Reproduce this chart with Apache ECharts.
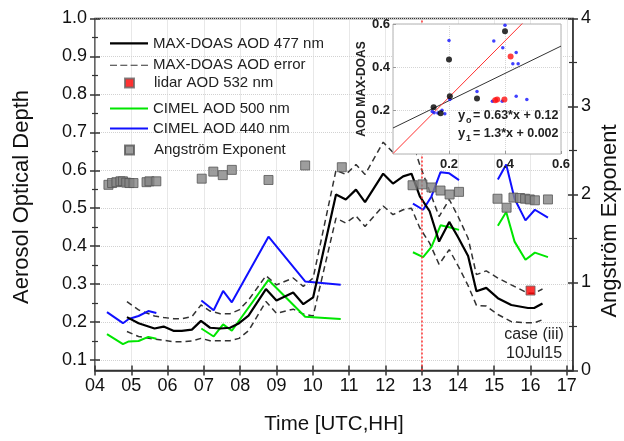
<!DOCTYPE html>
<html><head><meta charset="utf-8">
<script src="https://cdn.jsdelivr.net/npm/echarts@6/dist/echarts.min.js"></script>
<style>html,body{margin:0;padding:0;background:#fff}#c{width:624px;height:441px}</style>
</head><body><div id="c"></div>
<script>
// ---- MAX-DOAS AOD 477 nm with error bounds ----
const hours = [4.88,5.2,5.64,5.89,6.16,6.39,6.67,6.92,7.17,7.45,7.72,7.97,8.23,8.71,9.0,9.46,9.74,10.01,10.64,10.91,11.19,11.44,11.94,12.21,12.49,12.72,12.95,13.22,13.48,13.76,14.0,14.28,14.51,14.78,15.1,15.47,15.93,16.1,16.33];
const maxdoas = [0.213,0.197,0.183,0.188,0.177,0.177,0.180,0.203,0.185,0.183,0.185,0.197,0.217,0.287,0.257,0.278,0.247,0.265,0.536,0.523,0.549,0.516,0.591,0.565,0.584,0.591,0.531,0.492,0.412,0.464,0.424,0.374,0.281,0.290,0.263,0.245,0.237,0.237,0.249];
const errUpper = [0.254,0.232,0.216,0.212,0.209,0.209,0.214,0.245,0.229,0.222,0.222,0.232,0.258,0.322,0.298,0.316,0.294,0.316,0.600,0.589,0.615,0.589,0.674,0.647,0.672,0.682,0.614,0.545,0.478,0.523,0.479,0.421,0.325,0.335,0.316,0.298,0.276,0.276,0.287];
const errLower = [0.175,0.162,0.155,0.152,0.148,0.148,0.150,0.157,0.151,0.151,0.151,0.157,0.177,0.254,0.223,0.234,0.221,0.216,0.474,0.461,0.480,0.452,0.506,0.483,0.496,0.500,0.448,0.408,0.352,0.391,0.349,0.296,0.244,0.242,0.220,0.201,0.198,0.198,0.206];
// ---- lidar ----
const lidarTime = [16.0];
const lidarAOD = [0.283];
// ---- CIMEL (null = gap) ----
const cimelTime = [4.33,4.77,4.93,5.2,5.47,5.69,6.3,6.93,7.27,7.53,7.77,8.78,9.79,10.77,11.8,12.76,13.04,13.27,13.52,13.76,14.03,14.6,15.1,15.33,15.56,15.86,16.12,16.48];
const cimel440 = [0.226,0.197,0.208,0.216,0.229,0.224,null,0.257,0.231,0.282,0.252,0.425,0.307,0.298,null,0.512,0.496,0.531,0.595,0.592,0.574,null,0.576,0.615,0.525,0.468,0.496,0.475];
const cimel500 = [0.168,0.142,0.149,0.150,0.161,0.156,null,0.183,0.162,0.194,0.177,0.311,0.214,0.208,null,0.384,0.371,0.398,0.455,0.450,0.443,null,0.454,0.490,0.412,0.364,0.383,0.371];
// ---- Angstrom exponent ----
const angTime = [4.37,4.47,4.59,4.70,4.77,4.86,4.95,5.06,5.42,5.50,5.69,6.94,7.26,7.52,7.77,8.78,9.79,10.80,12.75,13.02,13.27,13.52,13.77,14.03,15.09,15.34,15.53,15.71,15.85,15.98,16.12,16.48];
const angstrom = [2.11,2.13,2.14,2.15,2.15,2.135,2.13,2.13,2.14,2.15,2.15,2.18,2.26,2.22,2.28,2.165,2.33,2.31,2.105,2.115,2.08,2.045,2.0,2.03,1.952,1.85,1.965,1.96,1.952,1.944,1.934,1.944];
// ---- inset scatter (x: reference AOD, y: AOD MAX-DOAS) ----
const insetBlackX = [0.200,0.203,0.145,0.170,0.300,0.400];
const insetBlackY = [0.436,0.266,0.216,0.188,0.256,0.566];
const insetBlueX = [0.200,0.203,0.140,0.147,0.160,0.175,0.185,0.300,0.400,0.360,0.392,0.440,0.428,0.447,0.355,0.390,0.440,0.478];
const insetBlueY = [0.524,0.251,0.196,0.190,0.189,0.202,0.186,0.288,0.594,0.522,0.490,0.468,0.417,0.417,0.243,0.243,0.267,0.251];
const insetRedX = [0.420,0.365,0.372,0.398];
const insetRedY = [0.450,0.248,0.251,0.251];
// regression fits: [slope, intercept]
const fit0 = [0.63, 0.12];
const fit1 = [1.3, 0.002];
const insetRange = [0, 0.6];
const markTime = 13;

const FONT = '"Liberation Sans", Arial, sans-serif';
const AX = '#333';
const pair = (xs, ys) => xs.map((x, i) => [x, ys[i] == null ? '-' : ys[i]]);
const fitLine = f => insetRange.map(x => [x, f[0] * x + f[1]]);
const isMult = (v, s) => Math.abs(v / s - Math.round(v / s)) < 1e-6;

const chart = echarts.init(document.getElementById('c'), null, {renderer: 'canvas'});

const legendText = {fontSize: 15, color: '#222', fontFamily: FONT};
const lineLegend = (name, cy, icon, h) => ({orient: 'horizontal', left: 110, top: cy - h / 2, padding: 0,
  itemWidth: 38, itemHeight: h, selectedMode: false, textStyle: legendText, data: [{name: name, icon: icon}]});
const boxLegend = (name, cy) => ({orient: 'horizontal', left: 124, top: cy - 4.5, padding: 0,
  itemWidth: 9, itemHeight: 9, selectedMode: false,
  textStyle: Object.assign({padding: [0, 0, 0, 15]}, legendText), data: [{name: name, icon: 'rect'}]});
const DASH_ICON = 'path://M0,0h7v1h-7z M10.3,0h7v1h-7z M20.6,0h7v1h-7z M31,0h7v1h-7z';

const X_MAX = 17.17;
const option = {
  animation: false,
  backgroundColor: '#fff',
  textStyle: {fontFamily: FONT},
  grid: [
    // full frame: x axis and Angstrom axis (0 .. 4)
    {left: 95, right: 51, top: 18.5, bottom: 70.5, show: true, borderColor: AX, borderWidth: 1.5, backgroundColor: 'transparent', outerBoundsMode: 'none'},
    // AOD area (0.1 .. 1.0)
    {left: 95, right: 51, top: 18.5, bottom: 81, show: false, outerBoundsMode: 'none'},
    // inset
    {left: 393, top: 24, width: 168, height: 130, show: true, borderColor: '#b0b0b0', borderWidth: 1, backgroundColor: '#fff', z: 10, outerBoundsMode: 'none'}
  ],
  legend: [
    lineLegend('MAX-DOAS AOD 477 nm', 37, 'rect', 2.2),
    lineLegend('MAX-DOAS AOD error', 58.5, DASH_ICON, 1.5),
    boxLegend('lidar AOD 532 nm', 80),
    lineLegend('CIMEL AOD 500 nm', 102, 'rect', 2),
    lineLegend('CIMEL AOD 440 nm', 122, 'rect', 2),
    boxLegend('Angström Exponent', 147)
  ],
  xAxis: [
    {gridIndex: 0, type: 'value', min: 4, max: X_MAX, interval: 1, position: 'bottom',
      axisLine: {show: true, onZero: false, lineStyle: {color: AX, width: 1.5}},
      axisTick: {show: true, length: 5, lineStyle: {color: AX, width: 1.5}},
      axisLabel: {color: '#111', fontSize: 18, fontFamily: FONT, margin: 7, showMaxLabel: false,
        formatter: v => isMult(v, 1) ? String(Math.round(v)).padStart(2, '0') : ''},
      splitLine: {show: true, lineStyle: {color: '#d2d2d2', type: 'dotted', width: 1}},
      name: 'Time [UTC,HH]', nameLocation: 'middle', nameGap: 43,
      nameTextStyle: {fontSize: 20.5, color: '#111', fontFamily: FONT}},
    {gridIndex: 0, type: 'value', min: 4, max: X_MAX, interval: 1, position: 'bottom', offset: 0,
      axisLine: {show: false, onZero: false}, axisLabel: {show: false}, splitLine: {show: false},
      axisTick: {show: true, inside: true, length: 5, lineStyle: {color: AX, width: 1.5}}},
    {gridIndex: 1, type: 'value', min: 4, max: X_MAX, show: false},
    {gridIndex: 2, type: 'value', min: 0, max: 0.6, interval: 0.2, z: 11,
      axisLine: {show: false, onZero: false},
      axisTick: {show: true, inside: true, length: 3, lineStyle: {color: '#999'}},
      axisLabel: {color: '#222', fontSize: 13, fontWeight: 'bold', fontFamily: FONT, margin: 4,
        showMinLabel: false, showMaxLabel: true, formatter: v => v.toFixed(1)},
      splitLine: {show: true, lineStyle: {color: '#d5d5d5', type: 'dotted'}}}
  ],
  yAxis: [
    {gridIndex: 1, type: 'value', min: 0.1, max: 1.0, interval: 0.1, position: 'left',
      axisLine: {show: false, onZero: false},
      axisTick: {show: true, length: 5, lineStyle: {color: AX, width: 1.5}},
      minorTick: {show: true, splitNumber: 2, length: 3, lineStyle: {color: AX, width: 1.2}},
      axisLabel: {color: '#111', fontSize: 18, fontFamily: FONT, margin: 8, showMinLabel: true, showMaxLabel: true,
        formatter: v => v.toFixed(1)},
      splitLine: {show: true, lineStyle: {color: '#d2d2d2', type: 'dotted', width: 1}}},
    {gridIndex: 0, type: 'value', min: 0, max: 4, interval: 1, position: 'right',
      axisLine: {show: true, onZero: false, lineStyle: {color: AX, width: 1.5}},
      axisTick: {show: true, length: 5, lineStyle: {color: AX, width: 1.5}},
      minorTick: {show: true, splitNumber: 2, length: 4, lineStyle: {color: AX, width: 1.2}},
      axisLabel: {color: '#111', fontSize: 18, fontFamily: FONT, margin: 8, showMinLabel: true, showMaxLabel: true},
      splitLine: {show: false}},
    {gridIndex: 1, type: 'value', min: 0.1, max: 1.0, interval: 0.1, position: 'left', offset: 0,
      axisLine: {show: false, onZero: false}, axisLabel: {show: false}, splitLine: {show: false},
      axisTick: {show: true, inside: true, length: 5, lineStyle: {color: AX, width: 1.5}},
      minorTick: {show: true, splitNumber: 2, length: 3, lineStyle: {color: AX, width: 1.2}}},
    {gridIndex: 0, type: 'value', min: 0, max: 4, interval: 1, position: 'right', offset: 0,
      axisLine: {show: false, onZero: false}, axisLabel: {show: false}, splitLine: {show: false},
      axisTick: {show: true, inside: true, length: 5, lineStyle: {color: AX, width: 1.5}},
      minorTick: {show: true, splitNumber: 2, length: 4, lineStyle: {color: AX, width: 1.2}}},
    {gridIndex: 2, type: 'value', min: 0, max: 0.6, interval: 0.2, z: 11,
      axisLine: {show: false, onZero: false},
      axisTick: {show: true, inside: true, length: 3, lineStyle: {color: '#999'}},
      axisLabel: {color: '#222', fontSize: 13, fontWeight: 'bold', fontFamily: FONT, margin: 3,
        showMinLabel: false, showMaxLabel: true, formatter: v => v.toFixed(1)},
      splitLine: {show: true, lineStyle: {color: '#d5d5d5', type: 'dotted'}},
      name: 'AOD MAX-DOAS', nameLocation: 'middle', nameGap: 22, nameRotate: 90,
      nameTextStyle: {fontSize: 12, fontWeight: 'bold', color: '#222', fontFamily: FONT}}
  ],
  series: [
    {name: 'MAX-DOAS AOD error', type: 'line', xAxisIndex: 2, yAxisIndex: 0, data: pair(hours, errUpper),
      symbol: 'none', color: '#333', lineStyle: {color: '#333', width: 1.5, type: [6, 4]}, z: 2},
    {name: 'MAX-DOAS AOD error', type: 'line', xAxisIndex: 2, yAxisIndex: 0, data: pair(hours, errLower),
      symbol: 'none', color: '#333', lineStyle: {color: '#333', width: 1.5, type: [6, 4]}, z: 2},
    {name: 'CIMEL AOD 500 nm', type: 'line', xAxisIndex: 2, yAxisIndex: 0, data: pair(cimelTime, cimel500),
      symbol: 'none', connectNulls: false, color: '#00e600', lineStyle: {color: '#00e600', width: 2}, z: 3},
    {name: 'CIMEL AOD 440 nm', type: 'line', xAxisIndex: 2, yAxisIndex: 0, data: pair(cimelTime, cimel440),
      symbol: 'none', connectNulls: false, color: '#1010ff', lineStyle: {color: '#1010ff', width: 2}, z: 3},
    {name: 'MAX-DOAS AOD 477 nm', type: 'line', xAxisIndex: 2, yAxisIndex: 0, data: pair(hours, maxdoas),
      symbol: 'none', color: '#000', lineStyle: {color: '#000', width: 2.2}, z: 4},
    {name: 'Angström Exponent', type: 'scatter', xAxisIndex: 0, yAxisIndex: 1, data: pair(angTime, angstrom),
      symbol: 'rect', symbolSize: 9, itemStyle: {color: '#858585', borderColor: '#555', borderWidth: 1}, z: 5,
      markLine: {silent: true, symbol: 'none', label: {show: false},
        lineStyle: {color: '#ff3030', type: [2, 2], width: 1.5}, data: [{xAxis: markTime}]}},
    {name: 'lidar AOD 532 nm', type: 'scatter', xAxisIndex: 2, yAxisIndex: 0, data: pair(lidarTime, lidarAOD),
      symbol: 'rect', symbolSize: 9, itemStyle: {color: '#ff0000', borderColor: '#666', borderWidth: 1}, z: 6},
    // inset
    {type: 'line', xAxisIndex: 3, yAxisIndex: 4, data: fitLine(fit0), symbol: 'none', clip: true,
      lineStyle: {color: '#333', width: 1}, z: 12, silent: true},
    {type: 'line', xAxisIndex: 3, yAxisIndex: 4, data: fitLine(fit1), symbol: 'none', clip: true,
      lineStyle: {color: '#ff3030', width: 1}, z: 12, silent: true},
    {type: 'scatter', xAxisIndex: 3, yAxisIndex: 4, data: pair(insetBlueX, insetBlueY), symbol: 'circle', symbolSize: 3.5,
      itemStyle: {color: '#1010ff'}, z: 13},
    {type: 'scatter', xAxisIndex: 3, yAxisIndex: 4, data: pair(insetBlackX, insetBlackY), symbol: 'circle', symbolSize: 6,
      itemStyle: {color: '#000'}, z: 14},
    {type: 'scatter', xAxisIndex: 3, yAxisIndex: 4, data: pair(insetRedX, insetRedY), symbol: 'circle', symbolSize: 6,
      itemStyle: {color: '#ff1010'}, z: 14}
  ],
  graphic: [
    {type: 'text', x: 22, y: 197, rotation: Math.PI / 2, z: 30,
      style: {text: 'Aerosol Optical Depth', font: '22px ' + FONT, fill: '#111', align: 'center', verticalAlign: 'middle'}},
    {type: 'text', x: 610, y: 221, rotation: Math.PI / 2, z: 30,
      style: {text: 'Angström Exponent', font: '22px ' + FONT, fill: '#111', align: 'center', verticalAlign: 'middle'}},
    {type: 'text', left: 458, top: 109, z: 30, style: {text: 'y', font: 'bold 13px ' + FONT, fill: '#222'}},
    {type: 'text', left: 466, top: 116, z: 30, style: {text: 'o', font: 'bold 9px ' + FONT, fill: '#222'}},
    {type: 'text', left: 473, top: 109, z: 30, style: {text: '= 0.63*x + 0.12', font: 'bold 12.5px ' + FONT, fill: '#222'}},
    {type: 'text', left: 458, top: 127, z: 30, style: {text: 'y', font: 'bold 13px ' + FONT, fill: '#222'}},
    {type: 'text', left: 466, top: 134, z: 30, style: {text: '1', font: 'bold 9px ' + FONT, fill: '#222'}},
    {type: 'text', left: 473, top: 127, z: 30, style: {text: '= 1.3*x + 0.002', font: 'bold 12.5px ' + FONT, fill: '#222'}},
    {type: 'text', x: 534, y: 335, z: 30, style: {text: 'case (iii)', font: '16px ' + FONT, fill: '#222', align: 'center', verticalAlign: 'middle'}},
    {type: 'text', x: 534, y: 354, z: 30, style: {text: '10Jul15', font: '16px ' + FONT, fill: '#222', align: 'center', verticalAlign: 'middle'}}
  ]
};
chart.setOption(option);
</script>
</body></html>
